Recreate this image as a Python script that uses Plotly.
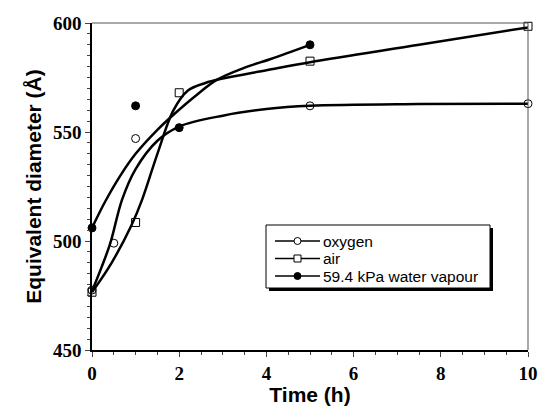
import plotly.graph_objects as go

# measured data points
t_oxygen = [0, 0.5, 1, 5, 10]
d_oxygen = [477.5, 499, 547, 562, 563]
t_air = [0, 1, 2, 5, 10]
d_air = [476.5, 508.5, 568, 582.5, 598.5]
t_water = [0, 1, 2, 5]
d_water = [506, 562, 552, 590]

# fitted curves
ct_oxygen = [0, 0.22, 0.42, 0.69, 1, 1.5, 2, 3, 4, 5, 7.5, 10]
cd_oxygen = [477, 488, 499, 519, 533, 546, 552.5, 557.5, 560.5, 562, 562.8, 563]
ct_air = [0, 0.45, 0.9, 1.15, 1.5, 1.87, 2.2, 2.6, 3, 4, 5, 7.5, 10]
cd_air = [476.5, 490, 507, 519, 540, 560, 569, 572.5, 574.5, 578.3, 582, 590, 598]
ct_water = [0, 0.3, 0.65, 1, 1.5, 1.9, 2.4, 2.87, 3.5, 4.1, 5]
cd_water = [506, 518, 530, 540, 551, 558.5, 567, 574, 579.5, 583.5, 590]

names = ["oxygen", "air", "59.4 kPa water vapour"]
symbols = ["circle-open", "square-open", "circle"]

# plot area in pixels (for the hand-drawn legend box)
L, R, T, B = 92, 528, 23, 350
def px(x):
    return (x - L) / (R - L)
def py(y):
    return (B - y) / (B - T)

fig = go.Figure()
curves = [(ct_oxygen, cd_oxygen), (ct_air, cd_air), (ct_water, cd_water)]
points = [(t_oxygen, d_oxygen), (t_air, d_air), (t_water, d_water)]
for (cx, cy), (pxs, pys), nm, sym in zip(curves, points, names, symbols):
    fig.add_trace(go.Scatter(x=cx, y=cy, mode="lines", name=nm,
                             line=dict(color="black", width=2.5, shape="spline", smoothing=1.0),
                             showlegend=False, hoverinfo="skip", cliponaxis=False))
    fig.add_trace(go.Scatter(x=pxs, y=pys, mode="markers", name=nm, showlegend=False, cliponaxis=False,
                             marker=dict(symbol=sym, size=8, color="black", line=dict(color="black", width=1))))

# legend: shadow + box
fig.add_shape(type="rect", xref="paper", yref="paper", x0=px(269), x1=px(493), y0=py(291), y1=py(228),
              fillcolor="black", line=dict(width=0), layer="above")
fig.add_shape(type="rect", xref="paper", yref="paper", x0=px(266), x1=px(490), y0=py(288), y1=py(225),
              fillcolor="white", line=dict(color="black", width=1), layer="above")
row_y = [241, 258.5, 276]
for yy, nm, sym in zip(row_y, names, symbols):
    fig.add_shape(type="line", xref="paper", yref="paper", x0=px(275), x1=px(320), y0=py(yy), y1=py(yy),
                  line=dict(color="black", width=1.5), layer="above")
    shape_type = "rect" if sym.startswith("square") else "circle"
    fill = "black" if sym == "circle" else "white"
    fig.add_shape(type=shape_type, xref="paper", yref="paper", xsizemode="pixel", ysizemode="pixel",
                  xanchor=px(297.5), yanchor=py(yy), x0=-3.5, x1=3.5, y0=-3.5, y1=3.5,
                  fillcolor=fill, line=dict(color="black", width=1), layer="above")
    fig.add_annotation(xref="paper", yref="paper", x=px(321), y=py(yy), text=nm, showarrow=False,
                       xanchor="left", yanchor="middle",
                       font=dict(family="Liberation Sans", size=15.5, color="black"))

# top/right frame
fig.add_shape(type="line", xref="paper", yref="paper", x0=0, x1=1, y0=1, y1=1, line=dict(color="#555", width=1))
fig.add_shape(type="line", xref="paper", yref="paper", x0=1, x1=1, y0=0, y1=1, line=dict(color="#555", width=1))

tickfont = dict(family="Liberation Serif", size=19, color="black", weight="bold")
titlefont = dict(family="Liberation Sans", size=21, color="black", weight="bold")
fig.update_layout(
    width=539, height=406, paper_bgcolor="white", plot_bgcolor="white",
    margin=dict(l=L, r=539 - R, t=T, b=406 - B, autoexpand=False),
    showlegend=False,
    xaxis=dict(range=[0, 10], tickvals=[0, 2, 4, 6, 8, 10], ticks="outside", ticklen=5, tickwidth=1,
               showline=True, linecolor="black", linewidth=1.5, showgrid=False, zeroline=False, automargin=False,
               tickfont=tickfont, title=dict(text="Time (h)", font=titlefont, standoff=6),
               minor=dict(dtick=0.5, ticks="outside", ticklen=3, tickwidth=1, showgrid=False)),
    yaxis=dict(range=[450, 600], tickvals=[450, 500, 550, 600], ticks="outside", ticklen=5, tickwidth=1,
               showline=True, linecolor="black", linewidth=1.5, showgrid=False, zeroline=False, automargin=False,
               tickfont=tickfont, title=dict(text="Equivalent diameter (Å)", font=titlefont, standoff=6),
               minor=dict(dtick=5, ticks="outside", ticklen=3, tickwidth=1, showgrid=False)),
)
fig.write_html("out.html")
